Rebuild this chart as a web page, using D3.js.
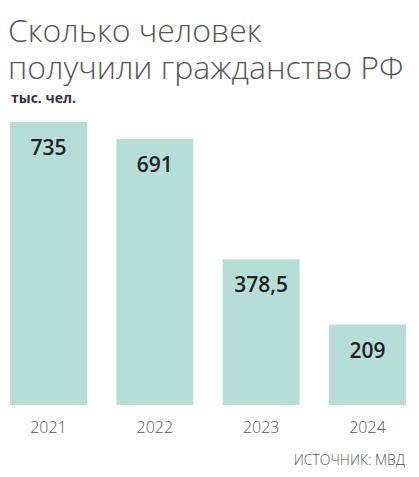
<!DOCTYPE html><html><head><meta charset="utf-8">
<script src="https://cdn.jsdelivr.net/npm/d3@7"></script>
<style>body{margin:0;background:#fff}</style></head><body>
<script>
const categories=["2021","2022","2023","2024"];
const values=[735,691,378.5,209];
const labels=["735","691","378,5","209"];
const W=419,H=477;
const svg=d3.select("body").append("svg").attr("width",W).attr("height",H);
const font="'Open Sans', sans-serif";
svg.append("text").attr("x",8).attr("y",42).attr("font-family",font).attr("font-weight",300).attr("font-size",32).attr("fill","#555").text("Сколько человек");
svg.append("text").attr("x",8).attr("y",79).attr("font-family",font).attr("font-weight",300).attr("font-size",32).attr("fill","#555").text("получили гражданство РФ");
svg.append("text").attr("x",11).attr("y",103).attr("font-family",font).attr("font-weight",700).attr("font-size",14).attr("fill","#333").text("тыс. чел.");
const x=d3.scaleBand().domain(categories).range([0,396]).paddingInner(0.276).paddingOuter(0);
const y=d3.scaleLinear().domain([0,735]).range([405,122]);
const g=svg.append("g").attr("transform","translate(10,0)");
g.selectAll("rect").data(values).join("rect").attr("x",(d,i)=>x(categories[i])).attr("width",x.bandwidth())
 .attr("y",d=>y(d)).attr("height",d=>405-y(d)).attr("fill","#b6ddd6");
g.selectAll("text.v").data(values).join("text").attr("class","v").attr("x",(d,i)=>x(categories[i])+x.bandwidth()/2)
 .attr("y",d=>y(d)+33).attr("text-anchor","middle").attr("font-family",font).attr("font-weight",600).attr("font-size",21).attr("fill","#222")
 .text((d,i)=>labels[i]);
g.selectAll("text.c").data(categories).join("text").attr("class","c").attr("x",d=>x(d)+x.bandwidth()/2).attr("y",433)
 .attr("text-anchor","middle").attr("font-family",font).attr("font-weight",300).attr("font-size",16).attr("fill","#555").text(d=>d);
svg.append("text").attr("x",405).attr("y",465).attr("text-anchor","end").attr("font-family",font).attr("font-weight",300).attr("font-size",14).attr("fill","#555").text("ИСТОЧНИК: МВД");
</script></body></html>
